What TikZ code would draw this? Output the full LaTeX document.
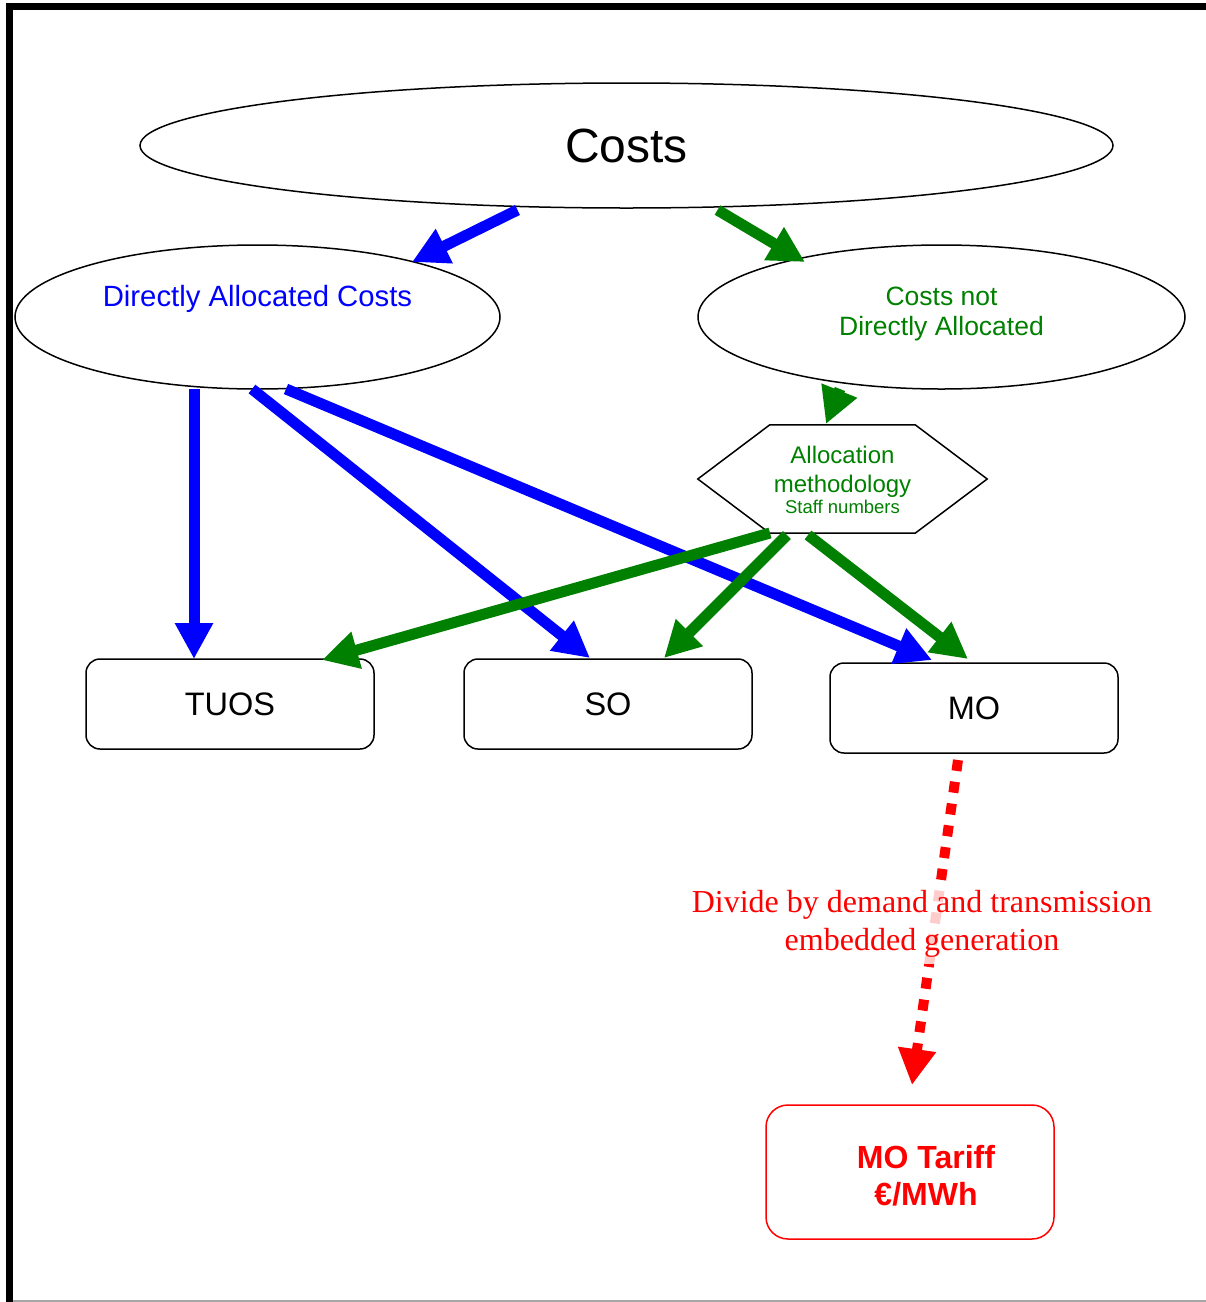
\documentclass[tikz,border=0pt]{standalone}
\usepackage{fontspec}
\setmainfont{Liberation Sans}
\newfontfamily\redserif{Liberation Serif}
\usetikzlibrary{arrows.meta,shapes.geometric,calc}
\definecolor{dgreen}{RGB}{0,128,0}
\definecolor{pblue}{RGB}{0,0,255}
\definecolor{pred}{RGB}{255,0,0}
\begin{document}
\begin{tikzpicture}[x=1pt,y=-1pt,
  oval/.style={ellipse,draw,line width=1.5pt,inner sep=0pt},
  box/.style={draw,rounded corners=14pt,line width=1.5pt,minimum width=288pt,minimum height=90pt,inner sep=0pt,font=\fontsize{32.5}{36}\selectfont},
  lbl/.style={inner sep=0pt,anchor=base,align=center},
  barrow/.style={draw=pblue,line width=11pt,-{Triangle[length=36pt,width=36pt]}},
  garrow/.style={draw=dgreen,line width=11pt,-{Triangle[length=36pt,width=36pt]}},
  rarrow/.style={draw=pred,line width=10pt,dash pattern=on 11pt off 11pt,-{Triangle[length=36pt,width=36pt]}}
]
\useasboundingbox (0,0) rectangle (1206,1302);
% frame
\fill (6,3) rectangle (1206,10);
\fill (6,3) rectangle (13,1302);
\draw[black!35,line width=1.5pt] (13,1301) -- (1206,1301);

% nodes
\node[oval,minimum width=973pt,minimum height=125pt,font=\fontsize{48}{56}\selectfont] (costs) at (626.5,145.5) {Costs};
\node[oval,minimum width=485pt,minimum height=144pt] (dac) at (257.5,317) {};
\node[lbl,text=pblue,font=\fontsize{29.3}{32}\selectfont] (dacT) at (257.5,306) {Directly Allocated Costs};
\node[oval,minimum width=487pt,minimum height=144pt] (cnda) at (941.5,317) {};
\node[lbl,text=dgreen,font=\fontsize{26.5}{30}\selectfont] (cndaT) at (941.5,335) {Costs not\\Directly Allocated};

\node[minimum width=289pt,minimum height=108pt,inner sep=0pt] (hex) at (842.5,479) {};
\draw[line width=1.5pt] (hex.west) -- ([xshift=72pt]hex.north west) -- ([xshift=-72pt]hex.north east)
  -- (hex.east) -- ([xshift=-72pt]hex.south east) -- ([xshift=72pt]hex.south west) -- cycle;
\node[lbl,text=dgreen,font=\fontsize{24}{29}\selectfont] (hexT) at (842.5,492) {Allocation\\methodology};
\node[lbl,text=dgreen,font=\fontsize{18.5}{22}\selectfont] (hexS) at (842.5,513) {Staff numbers};

\node[box] (tuos) at (230,704) {TUOS};
\node[box] (so) at (608,704) {SO};
\node[box] (mo) at (974,708) {MO};

\node[draw=pred,rounded corners=22pt,line width=1.5pt,minimum width=288pt,minimum height=134pt] (tariff) at (910,1172) {};
\node[lbl,text=pred,font=\bfseries\fontsize{32}{37}\selectfont] (tariffT) at (926,1205) {MO Tariff\\€/MWh};

% blue arrows
\draw[barrow] ($(costs)+(-109,64.5)$) -- ($(dac)+(154.5,-55)$);
\draw[barrow] ($(dac)+(-63.5,72)$) -- ($(tuos)+(-36,-45)$);
\draw[barrow] ($(dac)+(-5.5,72)$) -- ($(so)+(-18,-46)$);
\draw[barrow] ($(dac)+(28.5,72)$) -- ($(mo)+(-42,-48)$);
% green arrows
\draw[garrow] ($(costs)+(91,64.5)$) -- ($(cnda)+(-136.5,-55)$);
\draw[garrow] ($(cnda)+(-101.5,72)$) -- ($(hex)+(-16.5,-55)$);
\draw[garrow] ($(hex)+(-72.5,54)$) -- ($(tuos)+(92,-44)$);
\draw[garrow] ($(hex)+(-55.5,56)$) -- ($(so)+(56,-46)$);
\draw[garrow] ($(hex)+(-34.5,56)$) -- ($(mo)+(-6,-49)$);
% red arrow
\draw[rarrow] ($(mo)+(-16,52)$) -- ($(tariff)+(2,-87)$);
\node[lbl,text=pred,fill=white,fill opacity=0.8,text opacity=1,inner xsep=2pt,inner ysep=7pt,font=\redserif\fontsize{32}{37.5}\selectfont] (divT) at (922,950) {Divide by demand and transmission\\embedded generation};
\end{tikzpicture}
\end{document}
